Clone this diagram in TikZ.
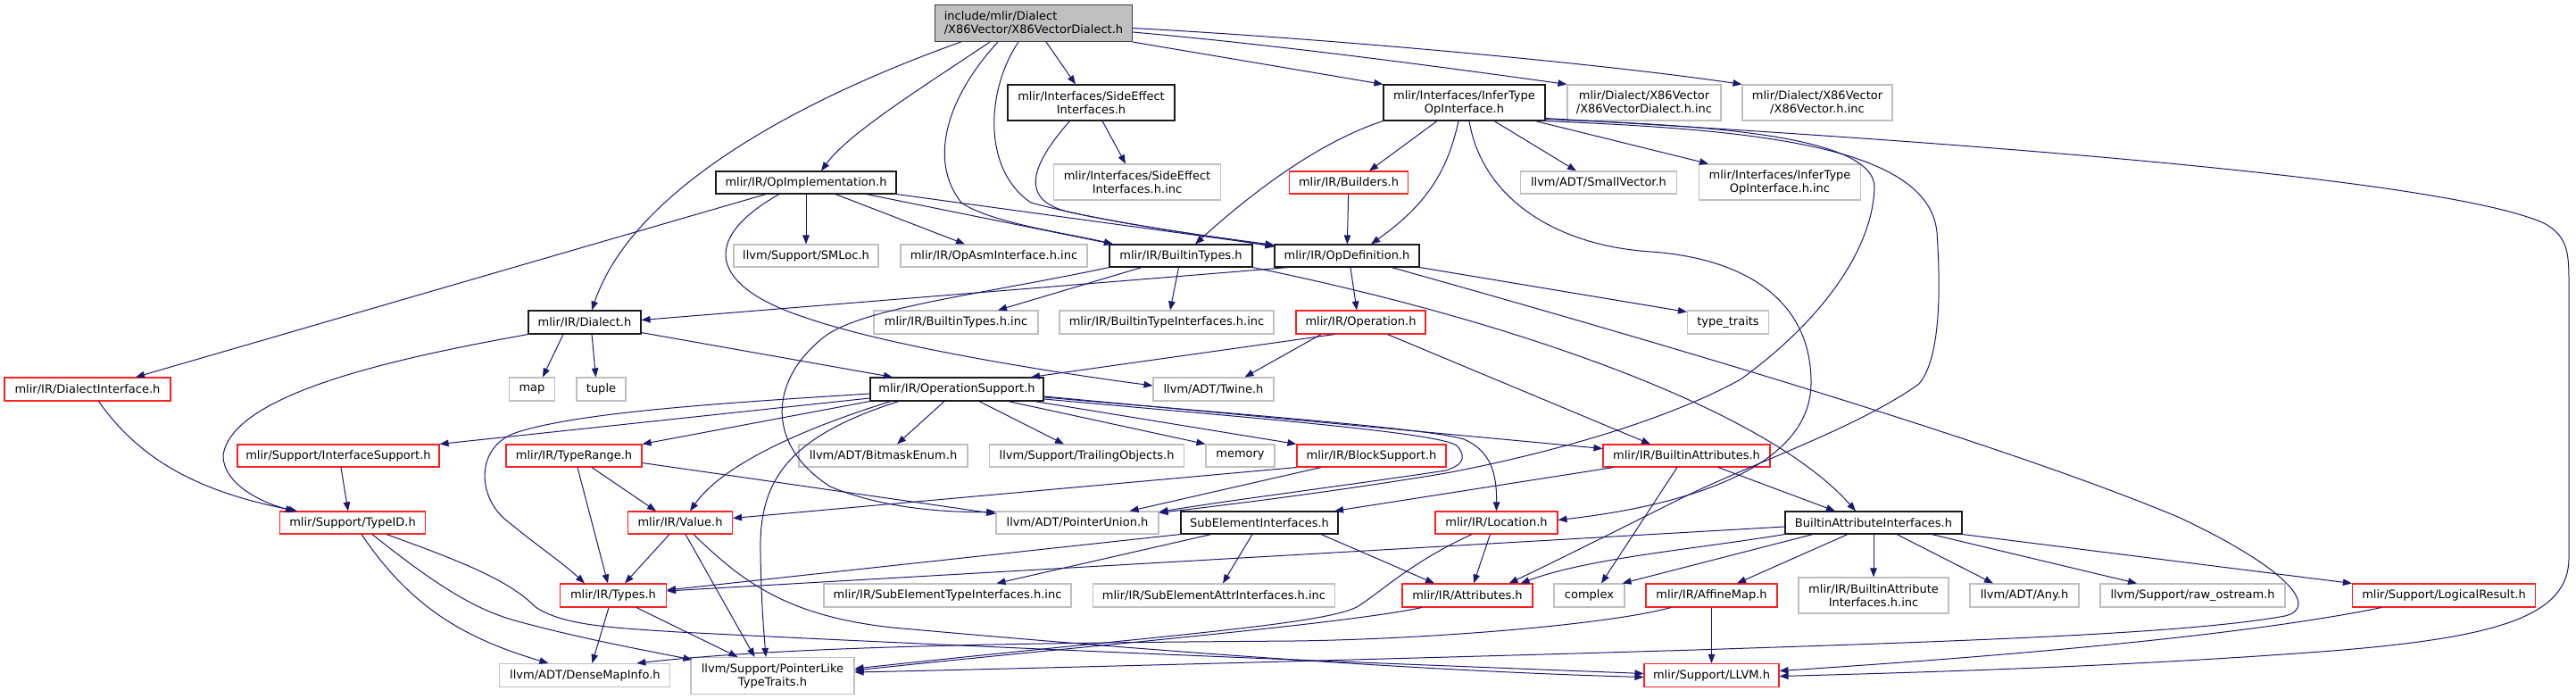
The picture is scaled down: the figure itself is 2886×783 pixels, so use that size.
\documentclass[tikz,border=0pt]{standalone}
\usepackage{fontspec}
\setmainfont{DejaVu Sans}
\usetikzlibrary{arrows.meta,calc}
\definecolor{edgec}{HTML}{191970}
\definecolor{extgrey}{HTML}{BFBFBF}
\definecolor{topfill}{HTML}{BFBFBF}
\definecolor{topdraw}{HTML}{404040}
\definecolor{docdraw}{HTML}{1A1A1A}
\definecolor{truncred}{HTML}{FF2020}
\newcommand{\mknode}[7]{\node[#1,minimum width=#5pt,minimum height=#6pt] (#2) at (#3,#4) {#7};}
\begin{document}
\begin{tikzpicture}[x=1pt,y=-1pt,
  nd/.style={rectangle,inner sep=0pt,line width=1.1pt,align=center,text=black,font=\fontsize{13}{15}\selectfont},
  topbox/.style={nd,draw=topdraw,fill=topfill,align=left},
  docbox/.style={nd,draw=docdraw,line width=1.1pt},
  trunc/.style={nd,draw=truncred},
  ext/.style={nd,draw=extgrey},
  e/.style={draw=edgec,line width=1pt,-{Triangle[length=10pt,width=7.5pt]}}]
\path[use as bounding box] (0,0) rectangle (2886,783);
% ---------- nodes ----------
\mknode{topbox}{topn}{1158}{26}{221}{41}{include/mlir/Dialect\\/X86Vector/X86VectorDialect.h}
\mknode{docbox}{sideeff}{1222.5}{115}{187}{40}{mlir/Interfaces/SideEffect\\Interfaces.h}
\mknode{ext}{sideeffinc}{1274}{204}{187}{40}{mlir/Interfaces/SideEffect\\Interfaces.h.inc}
\mknode{docbox}{infer}{1640.5}{115}{181}{40}{mlir/Interfaces/InferType\\OpInterface.h}
\mknode{ext}{xdinc}{1842}{115}{172}{40}{mlir/Dialect/X86Vector\\/X86VectorDialect.h.inc}
\mknode{ext}{xinc}{2036}{115}{168}{40}{mlir/Dialect/X86Vector\\/X86Vector.h.inc}
\mknode{docbox}{opimpl}{903}{204.5}{202}{25}{mlir/IR/OpImplementation.h}
\mknode{trunc}{builders}{1511}{204.5}{133}{25}{mlir/IR/Builders.h}
\mknode{ext}{smallvec}{1791}{204.5}{175}{25}{llvm/ADT/SmallVector.h}
\mknode{ext}{inferinc}{1994}{204}{181}{40}{mlir/Interfaces/InferType\\OpInterface.h.inc}
\mknode{ext}{smloc}{903}{286.5}{162}{25}{llvm/Support/SMLoc.h}
\mknode{ext}{opasm}{1113.5}{286.5}{209}{25}{mlir/IR/OpAsmInterface.h.inc}
\mknode{docbox}{btypes}{1323}{286.5}{160}{25}{mlir/IR/BuiltinTypes.h}
\mknode{docbox}{opdef}{1509}{286.5}{162}{25}{mlir/IR/OpDefinition.h}
\mknode{docbox}{dialect}{655}{361}{126}{26}{mlir/IR/Dialect.h}
\mknode{ext}{btinc}{1071}{361}{184}{26}{mlir/IR/BuiltinTypes.h.inc}
\mknode{ext}{btiinc}{1307}{361}{240}{26}{mlir/IR/BuiltinTypeInterfaces.h.inc}
\mknode{trunc}{operation}{1524.5}{361}{145}{26}{mlir/IR/Operation.h}
\mknode{ext}{typetraits}{1936}{361}{91}{26}{type\_traits}
\mknode{trunc}{dialectif}{98}{436}{186}{26}{mlir/IR/DialectInterface.h}
\mknode{ext}{map}{596}{436}{51}{26}{map}
\mknode{ext}{tuple}{673.5}{436}{55}{26}{tuple}
\mknode{docbox}{opsup}{1072}{436}{194}{26}{mlir/IR/OperationSupport.h}
\mknode{ext}{twine}{1359.5}{436}{135}{26}{llvm/ADT/Twine.h}
\mknode{trunc}{ifsup}{379}{510.5}{226}{25}{mlir/Support/InterfaceSupport.h}
\mknode{trunc}{typerange}{643}{510.5}{152}{25}{mlir/IR/TypeRange.h}
\mknode{ext}{bitmask}{989.5}{510.5}{189}{25}{llvm/ADT/BitmaskEnum.h}
\mknode{ext}{trailing}{1217.6}{510.5}{218}{25}{llvm/Support/TrailingObjects.h}
\mknode{ext}{memory}{1389.5}{510.5}{77}{25}{memory}
\mknode{trunc}{blocksup}{1536.5}{510.5}{167}{25}{mlir/IR/BlockSupport.h}
\mknode{trunc}{battrs}{1889.5}{510.5}{187}{25}{mlir/IR/BuiltinAttributes.h}
\mknode{trunc}{typeid}{395}{585.5}{163}{25}{mlir/Support/TypeID.h}
\mknode{trunc}{value}{762}{585.5}{117}{25}{mlir/IR/Value.h}
\mknode{ext}{punion}{1207}{585.5}{182}{25}{llvm/ADT/PointerUnion.h}
\mknode{docbox}{subelem}{1411}{585.5}{176}{25}{SubElementInterfaces.h}
\mknode{trunc}{location}{1676.5}{585.5}{137}{25}{mlir/IR/Location.h}
\mknode{docbox}{baif}{2099}{585.5}{198}{25}{BuiltinAttributeInterfaces.h}
\mknode{trunc}{types}{687}{667}{119}{26}{mlir/IR/Types.h}
\mknode{ext}{setinc}{1061.5}{667}{277}{26}{mlir/IR/SubElementTypeInterfaces.h.inc}
\mknode{ext}{seainc}{1360}{667}{271}{26}{mlir/IR/SubElementAttrInterfaces.h.inc}
\mknode{trunc}{attrs}{1644}{667}{146}{26}{mlir/IR/Attributes.h}
\mknode{ext}{complex}{1780.5}{667}{79}{26}{complex}
\mknode{trunc}{affine}{1917.5}{667}{147}{26}{mlir/IR/AffineMap.h}
\mknode{ext}{baifinc}{2099}{667}{168}{40}{mlir/IR/BuiltinAttribute\\Interfaces.h.inc}
\mknode{ext}{any}{2268}{667}{122}{26}{llvm/ADT/Any.h}
\mknode{ext}{rawos}{2456.5}{667}{207}{26}{llvm/Support/raw\_ostream.h}
\mknode{trunc}{logres}{2738}{667}{205}{26}{mlir/Support/LogicalResult.h}
\mknode{ext}{densemap}{655.4}{756.5}{191}{26}{llvm/ADT/DenseMapInfo.h}
\mknode{ext}{ptrlike}{865.5}{757}{183}{41}{llvm/Support/PointerLike\\TypeTraits.h}
\mknode{trunc}{llvm}{1917.5}{756.5}{151}{26}{mlir/Support/LLVM.h}
% ---------- edges ----------
% top
\draw[e] ($(topn.south)+(-81.5,0)$) .. controls (900,110) and (710,210) .. ($(dialect.north)+(8,0)$);
\draw[e] ($(topn.south)+(-49,0)$) .. controls (1030,100) and (950,150) .. ($(opimpl.north)+(17,0)$);
\draw[e] ($(topn.south)+(-40,0)$) .. controls (1060,110) and (1040,180) .. (1077,227) .. controls (1110,250) and (1200,262) .. ($(btypes.north)+(-76,0)$);
\draw[e] ($(topn.south)+(-17,0)$) .. controls (1105,100) and (1100,190) .. (1155,227) .. controls (1240,250) and (1350,264) .. ($(opdef.north west)+(0,1)$);
\draw[e] ($(topn.south)+(14,0)$) -- ($(sideeff.north)+(-17.5,0)$);
\draw[e] (topn.south east) -- (infer.north west);
\draw[e] ($(topn.east)+(0,10)$) .. controls (1450,52) and (1650,80) .. (xdinc.north west);
\draw[e] ($(topn.east)+(0,5.5)$) .. controls (1500,44) and (1800,72) .. (xinc.north west);
% sideeffect
\draw[e] ($(sideeff.south)+(12.5,0)$) -- ($(sideeffinc.north)+(-13,0)$);
\draw[e] ($(sideeff.south)+(-24,0)$) .. controls (1155,185) and (1140,225) .. (1200,238) .. controls (1280,255) and (1380,268) .. ($(opdef.north west)+(0,3)$);
% infer
\draw[e] (infer.south west) .. controls (1490,155) and (1420,200) .. ($(btypes.north)+(16,0)$);
\draw[e] ($(infer.south)+(-30.5,0)$) -- ($(builders.north)+(23,0)$);
\draw[e] ($(infer.south)+(-6.5,0)$) .. controls (1622,190) and (1600,228) .. ($(opdef.north)+(27,0)$);
\draw[e] ($(infer.south)+(5.5,0)$) .. controls (1660,220) and (1740,275) .. (1850,282) .. controls (1960,290) and (2030,340) .. (2029,430) .. controls (2028,520) and (1900,565) .. ($(location.east)+(0,-3)$);
\draw[e] ($(infer.south)+(33.5,0)$) -- ($(smallvec.north)+(-25,0)$);
\draw[e] ($(infer.south)+(79.5,0)$) -- ($(inferinc.north)+(-80,0)$);
\draw[e] ($(infer.south east)+(0,-2)$) .. controls (1900,140) and (2100,150) .. (2100,210) .. controls (2098,280) and (2040,360) .. (1950,425) .. controls (1850,480) and (1700,515) .. (1620,530) .. controls (1500,550) and (1380,565) .. ($(punion.north east)+(0,2)$);
\draw[e] (infer.south east) .. controls (1950,145) and (2160,160) .. (2170,260) .. controls (2174,320) and (2175,400) .. (2150,430) .. controls (2080,480) and (1960,520) .. (1880,560) .. controls (1800,600) and (1740,630) .. ($(attrs.north east)+(-27,0)$);
\draw[e] ($(infer.south east)+(0,-3)$) .. controls (2300,165) and (2750,205) .. (2850,250) .. controls (2878,265) and (2878,285) .. (2878,320) -- (2878,625) .. controls (2878,690) and (2800,715) .. (2600,730) .. controls (2400,745) and (2200,752) .. ($(llvm.east)+(0,1)$);
% opimpl
\draw[e] ($(opimpl.south)+(-45,0)$) -- ($(dialectif.north)+(54,0)$);
\draw[e] (opimpl) -- (smloc);
\draw[e] ($(opimpl.south)+(33,0)$) -- ($(opasm.north)+(-32.5,0)$);
\draw[e] ($(opimpl.south)+(67.6,0)$) -- ($(btypes.north)+(-76,0)$);
\draw[e] (opimpl.south east) -- ($(opdef.north west)+(0,2)$);
\draw[e] ($(opimpl.south)+(-30,0)$) .. controls (780,270) and (800,322) .. (900,355) .. controls (1000,390) and (1200,420) .. ($(twine.west)+(0,-4)$);
% builders
\draw[e] (builders) -- (opdef);
% builtin types
\draw[e] ($(btypes.south)+(-44,0)$) -- ($(btinc.north)+(47,0)$);
\draw[e] ($(btypes.south)+(-2.5,0)$) -- ($(btiinc.north)+(4,0)$);
\draw[e] (btypes.south west) .. controls (1100,330) and (960,345) .. (920,380) .. controls (860,430) and (860,500) .. (930,545) .. controls (990,570) and (1060,574) .. ($(punion.north west)+(0,1)$);
\draw[e] (btypes.south east) .. controls (1700,360) and (1980,460) .. ($(baif.north)+(-20,0)$);
% opdef
\draw[e] ($(opdef.south west)+(16,0)$) -- ($(dialect.east)+(0,-2.5)$);
\draw[e] ($(opdef.south)+(4,0)$) -- ($(operation.north)+(-4.5,0)$);
\draw[e] (opdef.south east) -- ($(typetraits.north west)+(0,2)$);
\draw[e] ($(opdef.south)+(50,0)$) .. controls (1900,395) and (2250,500) .. (2440,579) .. controls (2560,635) and (2600,680) .. (2560,690) .. controls (2450,710) and (2200,718) .. (1900,728) .. controls (1500,740) and (1100,750) .. ($(ptrlike.east)+(0,-4)$);
% operation
\draw[e] ($(operation.south)+(-29.5,0)$) -- ($(opsup.north)+(83,0)$);
\draw[e] ($(operation.south)+(-44.5,0)$) -- ($(twine.north)+(35,0)$);
\draw[e] ($(operation.south)+(30,0)$) -- ($(battrs.north)+(-40.5,0)$);
% dialect
\draw[e] ($(dialect.south)+(-24,0)$) -- ($(map.north)+(12,0)$);
\draw[e] ($(dialect.south)+(8,0)$) -- ($(tuple.north)+(-6,0)$);
\draw[e] ($(dialect.south east)+(0,-2)$) -- ($(opsup.north)+(-72,0)$);
\draw[e] (dialect.south west) .. controls (450,400) and (260,440) .. (250,510) .. controls (250,545) and (300,565) .. ($(typeid.north)+(-65,0)$);
% dialect interface
\draw[e] ($(dialectif.south)+(12.5,0)$) .. controls (160,520) and (230,552) .. ($(typeid.north)+(-62,0)$);
% operation support
\draw[e] ($(opsup.west)+(0,10)$) -- (ifsup.north east);
\draw[e] ($(opsup.west)+(0,5)$) .. controls (800,452) and (650,462) .. (580,484) .. controls (530,500) and (535,560) .. (570,585) .. controls (600,610) and (630,630) .. ($(types.north)+(-32,0)$);
\draw[e] (opsup.south west) -- (typerange.north east);
\draw[e] ($(opsup.south)+(-74,0)$) .. controls (900,480) and (810,520) .. ($(value.north)+(11,0)$);
\draw[e] ($(opsup.south)+(-65,0)$) .. controls (880,490) and (850,540) .. (852,620) .. controls (853,680) and (856,710) .. ($(ptrlike.north)+(-7.5,0)$);
\draw[e] ($(opsup.south)+(-14,0)$) -- ($(bitmask.north)+(15.5,0)$);
\draw[e] ($(opsup.south)+(25,0)$) -- ($(trailing.north)+(-25.6,0)$);
\draw[e] ($(opsup.south)+(57.5,0)$) -- (memory.north west);
\draw[e] ($(opsup.south)+(87,0)$) -- (blocksup.north west);
\draw[e] ($(opsup.east)+(0,8)$) -- ($(battrs.west)+(0,-8)$);
\draw[e] ($(opsup.east)+(0,9)$) .. controls (1400,465) and (1600,480) .. (1640,492) .. controls (1670,505) and (1677,530) .. (location.north);
\draw[e] ($(opsup.east)+(0,11)$) .. controls (1400,468) and (1620,485) .. (1633,500) .. controls (1645,515) and (1635,522) .. (1620,527) .. controls (1500,545) and (1380,560) .. ($(punion.north east)+(0,1)$);
% type range
\draw[e] ($(typerange.south)+(4,0)$) -- ($(types.north)+(-6,0)$);
\draw[e] ($(typerange.south)+(20,0)$) -- ($(value.north)+(-27,0)$);
\draw[e] ($(typerange.east)+(0,8)$) -- ($(punion.west)+(0,-10)$);
% interface support
\draw[e] ($(ifsup.south)+(3,0)$) -- ($(typeid.north)+(-5,0)$);
% type id
\draw[e] ($(typeid.south)+(10,0)$) .. controls (460,680) and (520,715) .. ($(densemap.north)+(-41,0)$);
\draw[e] ($(typeid.south)+(22,0)$) .. controls (500,665) and (540,685) .. (580,696) .. controls (650,715) and (720,728) .. ($(ptrlike.north west)+(2,3)$);
\draw[e] ($(typeid.south)+(38,0)$) .. controls (520,630) and (570,650) .. (600,680) .. controls (630,700) and (680,703) .. (760,708) .. controls (1200,730) and (1600,745) .. ($(llvm.west)+(0,-2)$);
% value
\draw[e] ($(value.south)+(-12,0)$) -- ($(types.north)+(13,0)$);
\draw[e] ($(value.south)+(6,0)$) -- ($(ptrlike.north)+(-20,0)$);
\draw[e] ($(value.south)+(15,0)$) .. controls (830,650) and (880,690) .. (1000,703) .. controls (1300,730) and (1600,752) .. ($(llvm.west)+(0,2)$);
% types
\draw[e] ($(types.south)+(-5,0)$) -- ($(densemap.north)+(8,0)$);
\draw[e] ($(types.south)+(26,0)$) -- ($(ptrlike.north)+(-39,0)$);
% sub element interfaces
\draw[e] (subelem.south west) -- ($(types.east)+(0,-6)$);
\draw[e] ($(subelem.south)+(-54,0)$) -- ($(setinc.north)+(55,0)$);
\draw[e] ($(subelem.south)+(-8,0)$) -- ($(seainc.north)+(10,0)$);
\draw[e] ($(subelem.south)+(69,0)$) -- ($(attrs.north)+(-37,0)$);
% builtin attribute interfaces
\draw[e] ($(baif.west)+(0,4.5)$) -- ($(types.east)+(0,-5)$);
\draw[e] (baif.south west) .. controls (1900,615) and (1780,625) .. ($(attrs.north east)+(-14,0)$);
\draw[e] ($(baif.south)+(-68,0)$) -- ($(complex.north east)+(-3,0)$);
\draw[e] ($(baif.south)+(-29,0)$) -- ($(affine.north)+(28.5,0)$);
\draw[e] (baif) -- (baifinc);
\draw[e] ($(baif.south)+(26,0)$) -- ($(any.north)+(-35,0)$);
\draw[e] ($(baif.south)+(65,0)$) -- ($(rawos.north)+(-62.5,0)$);
\draw[e] (baif.south east) -- (logres.north west);
% builtin attributes
\draw[e] ($(battrs.south)+(-82,0)$) -- ($(subelem.north east)+(-4.5,0)$);
\draw[e] ($(battrs.south)+(-10.5,0)$) -- ($(complex.north)+(13.5,0)$);
\draw[e] ($(battrs.south)+(35.5,0)$) -- ($(baif.north)+(-43,0)$);
% location
\draw[e] ($(location.south)+(-7,0)$) -- ($(attrs.north)+(7,0)$);
\draw[e] ($(location.south)+(-27.5,0)$) .. controls (1580,630) and (1545,665) .. (1520,680) .. controls (1480,700) and (1300,712) .. ($(ptrlike.east)+(0,-8)$);
% attributes
\draw[e] ($(attrs.south)+(-51,0)$) .. controls (1500,700) and (1200,725) .. ($(ptrlike.east)+(0,-6)$);
% affine map
\draw[e] (affine) -- (llvm);
\draw[e] ($(affine.south)+(-45.5,0)$) .. controls (1800,700) and (1600,716) .. (1450,718) .. controls (1200,720) and (900,722) .. ($(densemap.north)+(58,0)$);
% logical result
\draw[e] ($(logres.south)+(-70,0)$) .. controls (2500,715) and (2200,738) .. ($(llvm.east)+(0,-5)$);
% block support
\draw[e] (blocksup.south west) -- ($(value.east)+(0,-5)$);
\draw[e] ($(blocksup.south)+(-56.5,0)$) -- ($(punion.north east)+(-33,0)$);
\end{tikzpicture}
\end{document}
